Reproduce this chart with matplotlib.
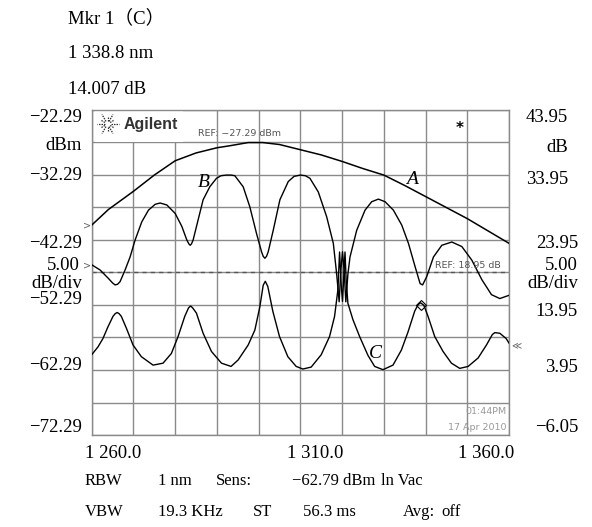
import numpy as np
import matplotlib.pyplot as plt
from matplotlib.patches import Rectangle

plt.rcParams['font.family'] = ['Liberation Serif', 'Noto Sans CJK SC', 'DejaVu Sans']

# wavelength grid (nm) and level grid
x_ticks = [1260, 1270, 1280, 1290, 1300, 1310, 1320, 1330, 1340, 1350, 1360]
y_ticks = [-72.29, -67.29, -62.29, -57.29, -52.29, -47.29, -42.29, -37.29, -32.29, -27.29, -22.29]
x_labels = ['1 260.0', '1 310.0', '1 360.0']
left_labels = ['−22.29', 'dBm', '−32.29', '−42.29', '5.00', 'dB/div', '−52.29', '−62.29', '−72.29']
right_labels = ['43.95', 'dB', '33.95', '23.95', '5.00', 'dB/div', '13.95', '3.95', '−6.05']

# trace A: source spectrum (dBm)
a_wl = [1260, 1264, 1270, 1275, 1280, 1285, 1290, 1293, 1297.5, 1301, 1305, 1310,
        1315, 1320, 1325, 1330, 1335, 1340, 1345, 1350, 1355, 1360]
a_dbm = [-40.0, -37.6, -34.8, -32.3, -30.1, -28.9, -28.1, -27.8, -27.3, -27.3, -27.6, -28.4,
         -29.2, -30.2, -31.3, -32.3, -33.9, -35.6, -37.3, -39.0, -40.9, -42.8]

# trace B: reflected spectrum (dBm)
b_wl = [1260, 1262.0, 1264.0, 1265.0, 1265.6, 1266.2, 1266.8, 1268.0, 1269.2, 1270.4, 1272.0, 1273.6,
        1275.2, 1276.4, 1278.0, 1280.0, 1281.6, 1282.8, 1283.3, 1283.6, 1283.9, 1284.3, 1285.5, 1286.7,
        1288.3, 1289.9, 1291.0, 1292.3, 1293.4, 1294.3, 1296.3, 1297.9, 1299.5, 1300.7, 1301.1, 1301.5,
        1301.9, 1302.3, 1303.5, 1305.1, 1307.1, 1308.5, 1310.0, 1311.2, 1312.3, 1314.3, 1316.3, 1317.9,
        1318.7, 1319.3, 1319.7, 1320.1, 1320.5, 1320.9, 1321.4, 1321.9, 1323.5, 1325.5, 1327.1, 1328.7,
        1330.3, 1332.3, 1334.3, 1335.9, 1337.5, 1338.7, 1339.3, 1340.3, 1341.9, 1343.9,
        1346.3, 1348.7, 1351.1, 1353.5, 1355.8, 1357.8, 1360]
b_dbm = [-46.1, -46.9, -48.2, -48.9, -49.2, -49.1, -48.7, -46.9, -44.9, -42.3, -39.5, -37.7,
         -36.8, -36.6, -36.9, -38.2, -40.2, -42.3, -42.9, -43.1, -42.9, -42.3, -39.2, -36.1,
         -34.1, -32.8, -32.4, -32.3, -32.3, -32.4, -34.1, -37.2, -41.3, -44.1, -44.8, -45.1,
         -44.8, -44.1, -40.8, -36.1, -33.3, -32.5, -32.3, -32.4, -32.8, -34.9, -38.7, -42.8,
         -47.5, -51.8, -47.0, -44.1, -47.0, -51.8, -47.5, -44.9, -40.8, -37.7, -36.4, -36.0,
         -36.4, -37.7, -40.0, -42.8, -46.4, -49.0, -49.2, -47.9, -44.9, -43.1,
         -42.6, -43.3, -45.4, -48.4, -50.7, -51.3, -50.8]

# trace C: difference A-B (dB, right scale)
c_wl = [1260, 1261.5, 1262.7, 1263.9, 1265.1, 1265.6, 1266.1, 1266.6, 1267.1, 1268.3, 1269.9, 1271.9,
        1274.7, 1277.1, 1279.1, 1280.7, 1282.3, 1283.2, 1283.7, 1284.2, 1285.1, 1286.7, 1288.7, 1291.1,
        1293.4, 1295.1, 1297.5, 1299.1, 1300.3, 1301.1, 1301.6, 1302.2, 1303.4, 1305.0,
        1307.0, 1309.0, 1310.6, 1312.6, 1315.0, 1317.0, 1318.2, 1319.0, 1319.4, 1319.8,
        1320.1, 1320.3, 1320.7, 1321.0, 1321.4, 1322.6, 1324.2, 1326.2, 1327.8, 1329.8,
        1332.2, 1334.2, 1335.8, 1337.4, 1338.2, 1338.8, 1339.6, 1340.6, 1342.2, 1344.2, 1346.2,
        1348.2, 1350.2, 1352.6, 1354.6, 1356.0, 1356.6, 1357.8, 1359.3, 1360]
c_db = [6.3, 7.5, 8.8, 10.6, 12.2, 12.6, 12.8, 12.6, 12.2, 10.4, 7.8, 6.0,
        4.7, 5.0, 6.5, 9.1, 12.2, 13.5, 13.8, 13.5, 12.7, 9.6, 6.8, 5.0,
        4.5, 5.5, 7.8, 10.1, 13.7, 17.0, 17.6, 16.8, 13.0, 9.1,
        6.0, 4.5, 4.1, 4.4, 6.3, 9.1, 12.2, 16.3, 22.1, 17.0,
        14.5, 17.0, 22.1, 17.5, 14.2, 11.7, 9.1, 6.2, 4.5, 4.0,
        4.7, 7.0, 9.8, 13.0, 14.0, 14.3, 13.9, 12.2, 9.1, 6.8, 5.0,
        4.2, 4.5, 5.8, 7.8, 9.4, 9.7, 9.6, 8.8, 8.1]

marker_wl = 1338.8
marker_db = 14.007

W, H = 592, 527


def fx(x):
    return x / W


def fy(y):
    return 1 - y / H


fig = plt.figure(figsize=(W / 100, H / 100), dpi=100)
ax = fig.add_axes([fx(91.7), fy(435), (509 - 91.7) / W, (435 - 110) / H])
ax.set_xlim(1260, 1360)
ax.set_ylim(-72.29, -22.29)
ax.set_xticks(x_ticks)
ax.set_yticks(y_ticks)
ax.tick_params(length=0, labelleft=False, labelbottom=False)
ax.grid(True, color='#8a8a8a', lw=1.0)
for s in ax.spines.values():
    s.set_color('#8a8a8a')
    s.set_linewidth(1.0)
ax.axhline(-47.29, color='#555555', lw=1.0, ls=(0, (3, 3)), zorder=2)

ax2 = ax.twinx()
ax2.set_ylim(-6.05, 43.95)
ax2.set_yticks([])
for s in ax2.spines.values():
    s.set_visible(False)

ax.plot(a_wl, a_dbm, color='black', lw=1.1, zorder=3)
ax.plot(b_wl, b_dbm, color='black', lw=1.0, zorder=3)
ax2.plot(c_wl, c_db, color='black', lw=1.0, zorder=3)
ax2.plot([marker_wl], [marker_db], marker='D', ms=5, mfc='none', mec='black', mew=0.8)

# logo box
ax.add_patch(Rectangle(((95 - 91.7) / 417, 1 - (142 - 110) / 325), (183 - 95) / 417, (142 - 111) / 325,
                       transform=ax.transAxes, facecolor='white', edgecolor='none', zorder=2))
cx, cy = (107.5 - 91.7) / 417, 1 - (124 - 110) / 325
for ang in np.arange(0, 360, 30):
    r1, r2 = (3, 11) if ang % 60 == 0 else (3, 8)
    t = np.deg2rad(ang)
    ax.plot([cx + r1 * np.cos(t) / 417, cx + r2 * np.cos(t) / 417],
            [cy + r1 * np.sin(t) / 325, cy + r2 * np.sin(t) / 325],
            transform=ax.transAxes, color='#333333', lw=0.9, ls=(0, (1.2, 0.8)), zorder=3)
fig.text(fx(124), fy(125), 'Agilent', family='Liberation Sans', weight='bold', fontsize=11.5,
         color='#333333', va='center', ha='left')

small = dict(family='DejaVu Sans', fontsize=6.8, va='center')
fig.text(fx(198), fy(133), 'REF: −27.29 dBm', color='#555555', ha='left', **small)
fig.text(fx(435), fy(266), 'REF: 18.95 dB', color='#555555', ha='left', **small)
fig.text(fx(506), fy(412), '01:44PM', color='#999999', ha='right', zorder=1, **small)
fig.text(fx(506), fy(427), '17 Apr 2010', color='#999999', ha='right', zorder=1, **small)
fig.text(fx(460), fy(129), '*', family='DejaVu Sans', fontsize=11, weight='bold', ha='center', va='center')

lab = dict(fontsize=14, style='italic', ha='center', va='center')
fig.text(fx(204), fy(183), 'B', **lab)
fig.text(fx(412), fy(180), 'A', **lab)
fig.text(fx(375), fy(354), 'C', **lab)

# edge markers
fig.text(fx(87), fy(225), '>', family='DejaVu Sans', fontsize=7, color='#666666', ha='center', va='center')
fig.text(fx(87), fy(265), '>', family='DejaVu Sans', fontsize=7, color='#666666', ha='center', va='center')
fig.text(fx(516), fy(345), '≪', family='DejaVu Sans', fontsize=7, color='#666666', ha='center', va='center')

fs = 13.5
# marker readout
fig.text(fx(68), fy(18), 'Mkr 1（C）', fontsize=fs, va='center', ha='left')
fig.text(fx(68), fy(53), '1 338.8 nm', fontsize=fs, va='center', ha='left')
fig.text(fx(68), fy(89), '14.007 dB', fontsize=fs, va='center', ha='left')

# left scale
left_y = [117, 145, 176, 243, 265, 283, 299, 365, 427]
left_x = [82, 82, 82, 82, 80, 82, 82, 82, 82]
for t, y, x in zip(left_labels, left_y, left_x):
    fig.text(fx(x), fy(y), t, fontsize=fs, ha='right', va='center')

# right scale
right_y = [117, 148, 180, 243, 265, 284, 312, 368, 427]
right_x = [568, 568, 568, 578, 578, 578, 578, 578, 578]
for t, y, x in zip(right_labels, right_y, right_x):
    fig.text(fx(x), fy(y), t, fontsize=fs, ha='right', va='center')

# wavelength labels
for t, x in zip(x_labels, [85, 287, 458]):
    fig.text(fx(x), fy(453), t, fontsize=fs, ha='left', va='center')

# instrument settings
row1 = [('RBW', 85), ('1 nm', 158), ('Sens:', 216), ('−62.79 dBm', 292), ('ln Vac', 381)]
row2 = [('VBW', 85), ('19.3 KHz', 158), ('ST', 253), ('56.3 ms', 303), ('Avg:', 403), ('off', 441)]
for t, x in row1:
    fig.text(fx(x), fy(481), t, fontsize=12, ha='left', va='center')
for t, x in row2:
    fig.text(fx(x), fy(512), t, fontsize=12, ha='left', va='center')

fig.savefig('out.png', dpi=100)
